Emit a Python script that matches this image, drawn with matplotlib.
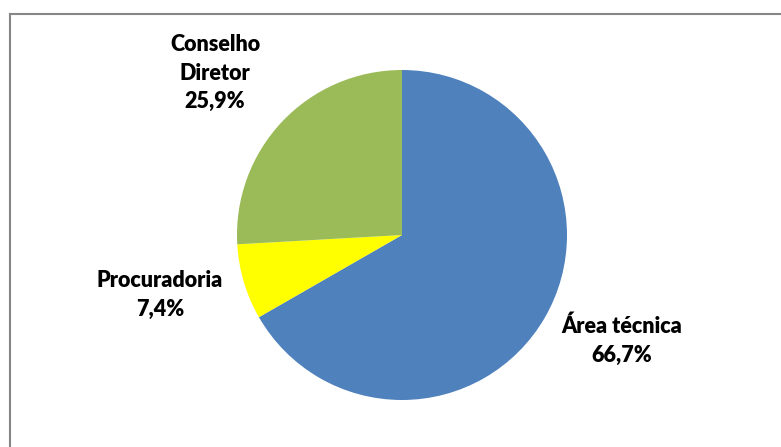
import matplotlib
matplotlib.use("Agg")
import matplotlib.pyplot as plt
from matplotlib.lines import Line2D

categories = ["Área técnica", "Procuradoria", "Conselho\nDiretor"]
shares = [66.7, 7.4, 25.9]
colors = ["#4F81BD", "#FFFF00", "#9BBB59"]

W, H = 781, 447
cx, cy, r = 402, 235, 165

fig = plt.figure(figsize=(W / 100, H / 100), dpi=100)
fig.patch.set_facecolor("white")

# chart frame: only top and left edges are visible in the crop
fig.add_artist(Line2D([9.5 / W, 9.5 / W], [0, 1 - 13.5 / H], transform=fig.transFigure,
                      color="#868686", lw=1.5))
fig.add_artist(Line2D([9.5 / W, 1], [1 - 13.5 / H, 1 - 13.5 / H], transform=fig.transFigure,
                      color="#868686", lw=1.5))

ax = fig.add_axes([(cx - r) / W, (H - cy - r) / H, 2 * r / W, 2 * r / H])
ax.pie(shares, colors=colors, startangle=90, counterclock=False, radius=1,
       wedgeprops=dict(linewidth=0))
ax.set_xlim(-1, 1)
ax.set_ylim(-1, 1)
ax.set_aspect("equal")
ax.axis("off")

# label centres, in pixels of the reference image
label_px = [(622, 341), (160, 295), (215, 73)]
for cat, val, (px, py) in zip(categories, shares, label_px):
    txt = f"{cat}\n{val:.1f}%".replace(".", ",")
    ax.text((px - cx) / r, (cy - py) / r, txt, ha="center", va="center",
            fontsize=15.5, fontweight="heavy", family="Lato", linespacing=1.45,
            clip_on=False)

fig.savefig("out.png", dpi=100)
